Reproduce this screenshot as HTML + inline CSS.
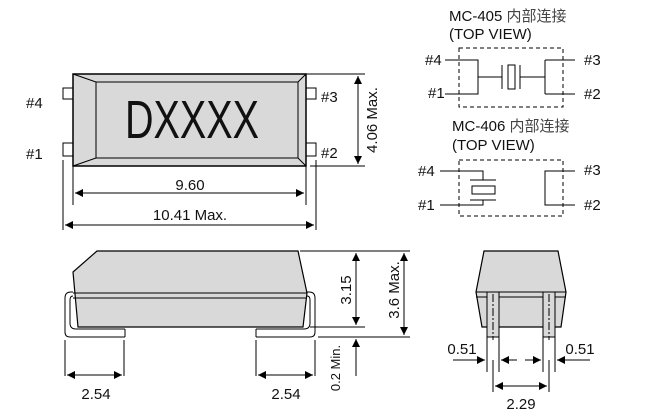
<!DOCTYPE html>
<html><head><meta charset="utf-8"><style>
html,body{margin:0;padding:0;background:#fff}
svg{display:block}
text{font-family:"Liberation Sans","Noto Sans CJK SC",sans-serif;fill:#111}
</style></head><body>
<svg width="661" height="418" viewBox="0 0 661 418" xmlns="http://www.w3.org/2000/svg">
<defs>
<marker id="a" viewBox="0 0 10 10" refX="10" refY="5" markerWidth="14" markerHeight="8" markerUnits="userSpaceOnUse" orient="auto-start-reverse"><path d="M0,0L10,5L0,10z" fill="#000"/></marker>
</defs>
<g stroke="#000" stroke-width="1" fill="none">
<rect x="63" y="88" width="10" height="11" fill="#fff"/>
<rect x="63" y="143" width="10" height="13" fill="#fff"/>
<rect x="306" y="88" width="10" height="11" fill="#fff"/>
<rect x="306" y="143" width="10" height="13" fill="#fff"/>
<rect x="73" y="74" width="233" height="92" fill="#d9d9d9" stroke-width="1.5"/>
<path d="M73,74L96,82L96,158L73,166M96,82L298,82L306,74M96,158L298,158L306,166M298,82L298,158"/>
<path d="M306,74H365M310,166H365M73,166V205M306,166V205M63,160V230M316,160V230"/>
<path d="M358,76V164" marker-start="url(#a)" marker-end="url(#a)"/>
<path d="M75,193H304" marker-start="url(#a)" marker-end="url(#a)"/>
<path d="M65,225H314" marker-start="url(#a)" marker-end="url(#a)"/>
<path d="M97,251H298L307,293L303,327H78L73,272Z" fill="#d9d9d9" stroke-width="1.2"/>
<path d="M73,293H307M73,298H307"/>
<path d="M125,329H76Q70,329 70,323V300Q70,296 73,296M125,337H70Q65,337 65,332V298Q65,292 71,292H73" fill="none"/>
<path d="M125,329V337"/>
<path d="M256,329H304Q310,329 310,323V300Q310,296 307,296M256,337H310Q315,337 315,332V298Q315,292 309,292H307" fill="none"/>
<path d="M256,329V337"/>
<path d="M300,251H410M310,327H365M318,337H410"/>
<path d="M356,253V325" marker-start="url(#a)" marker-end="url(#a)"/>
<path d="M404,253V335" marker-start="url(#a)" marker-end="url(#a)"/>
<path d="M356,376V339" marker-end="url(#a)"/>
<path d="M65,340V376M124,340V376M256,340V376M315,340V376"/>
<path d="M67,375H122" marker-start="url(#a)" marker-end="url(#a)"/>
<path d="M258,375H313" marker-start="url(#a)" marker-end="url(#a)"/>
<path d="M484,251H558L566,292L561,327H482L476,292Z" fill="#d9d9d9" stroke-width="1.2"/>
<path d="M476,292H566M476,297H566"/>
<rect x="487" y="292" width="12" height="45" fill="#d9d9d9"/>
<rect x="543" y="292" width="12" height="45" fill="#d9d9d9"/>
<path d="M493,294V340M549,294V340" stroke-dasharray="8,2,2,2"/>
<path d="M487,337V372M499,337V372M543,337V372M555,337V372M493,360V392M549,360V392"/>
<path d="M453,360H485" marker-end="url(#a)"/>
<path d="M517,360H501" marker-end="url(#a)"/>
<path d="M525,360H541" marker-end="url(#a)"/>
<path d="M590,360H557" marker-end="url(#a)"/>
<path d="M495,386H547" marker-start="url(#a)" marker-end="url(#a)"/>
<rect x="459" y="48" width="104" height="59" stroke-dasharray="4,3"/>
<path d="M445,60H478V94H445M478,77H502M502,65V89M520,65V89M520,77H545M545,60V94M545,60H575M545,94H575"/>
<rect x="508" y="65" width="7" height="24"/>
<rect x="459" y="160" width="104" height="56" stroke-dasharray="4,3"/>
<path d="M440,171H483V180M470,180H496M470,200H496M483,200V205H440M575,171H545V205H575"/>
<rect x="472" y="186" width="23" height="8"/>
</g>
<text x="125" y="138" font-size="54" textLength="134" lengthAdjust="spacingAndGlyphs">DXXXX</text>
<g font-size="15">
<text x="26" y="108">#4</text><text x="26" y="159">#1</text>
<text x="321" y="102">#3</text><text x="321" y="158">#2</text>
<text x="190" y="190" text-anchor="middle">9.60</text>
<text x="190" y="220" text-anchor="middle">10.41 Max.</text>
<text transform="translate(377,120) rotate(-90)" text-anchor="middle">4.06  Max.</text>
<text transform="translate(351,290) rotate(-90)" text-anchor="middle">3.15</text>
<text transform="translate(399,290) rotate(-90)" text-anchor="middle">3.6 Max.</text>
<text transform="translate(340,368) rotate(-90)" text-anchor="middle" font-size="13">0.2 Min.</text>
<text x="96" y="399" text-anchor="middle">2.54</text>
<text x="286" y="399" text-anchor="middle">2.54</text>
<text x="462" y="354" text-anchor="middle">0.51</text>
<text x="580" y="354" text-anchor="middle">0.51</text>
<text x="521" y="409" text-anchor="middle">2.29</text>
<text x="449" y="21">MC-405 <tspan fill="#444">内部连接</tspan></text>
<text x="449" y="39">(TOP VIEW)</text>
<text x="425" y="65">#4</text><text x="428" y="98">#1</text>
<text x="584" y="65">#3</text><text x="584" y="99">#2</text>
<text x="452" y="131">MC-406 <tspan fill="#444">内部连接</tspan></text>
<text x="452" y="150">(TOP VIEW)</text>
<text x="418" y="176">#4</text><text x="418" y="210">#1</text>
<text x="584" y="175">#3</text><text x="584" y="210">#2</text>
</g>
</svg>
</body></html>
